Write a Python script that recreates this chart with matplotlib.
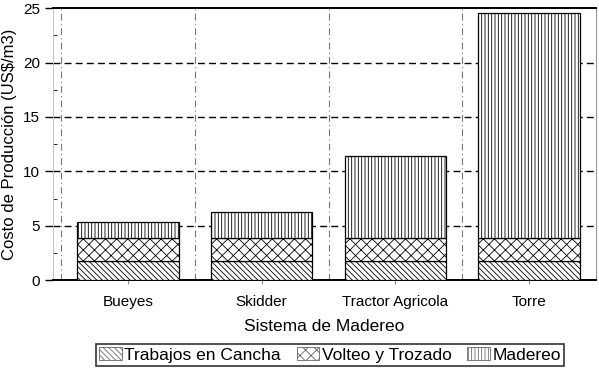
import numpy as np
import matplotlib
matplotlib.use("Agg")
import matplotlib.pyplot as plt
from matplotlib.patches import Patch

plt.rcParams['font.family'] = ['Liberation Sans', 'DejaVu Sans']
plt.rcParams['hatch.linewidth'] = 0.6

sistemas = ["Bueyes", "Skidder", "Tractor Agricola", "Torre"]
trabajos_cancha = [1.75, 1.75, 1.75, 1.75]
volteo_trozado = [2.1, 2.1, 2.1, 2.1]
madereo = [1.5, 2.4, 7.6, 20.75]

series_names = ["Trabajos en Cancha", "Volteo y Trozado", "Madereo"]
hatches = ["\\\\\\\\\\\\", "xxx", "|||||"]

fig = plt.figure(figsize=(5.99, 3.71), dpi=100)
ax = fig.add_axes([0.0885, 0.245, 0.9065, 0.733])

x = np.arange(len(sistemas))
width = 0.76
bottom = np.zeros(len(sistemas))
for vals, h in zip([trabajos_cancha, volteo_trozado, madereo], hatches):
    ax.bar(x, vals, width, bottom=bottom, color="white", edgecolor="black",
           hatch=h, linewidth=0.9, zorder=3)
    bottom += np.array(vals)

# grid lines
for yv in [5, 10, 15, 20]:
    ax.axhline(yv, color="black", linestyle=(0, (5, 3)), linewidth=1.0, zorder=1)
for xv in x - 0.5:
    ax.axvline(xv, color="#777777", linestyle=(0, (6, 3, 1, 3)), linewidth=0.8, zorder=1)

ax.set_xlim(-0.56, 3.5)
ax.set_ylim(0, 25)
ax.set_yticks([0, 5, 10, 15, 20, 25])
ax.set_yticks(np.arange(2.5, 25, 5), minor=True)
ax.tick_params(axis="y", which="major", direction="out", length=6, labelsize=11, width=1)
ax.tick_params(axis="y", which="minor", direction="in", length=3)
ax.set_xticks(x)
ax.set_xticklabels(sistemas, fontsize=11)
ax.tick_params(axis="x", direction="out", length=3, width=0.6, color="#777777", pad=8)

ax.spines["top"].set_linewidth(1.4)
ax.spines["bottom"].set_linewidth(1.4)
ax.spines["left"].set_color("#bbbbbb")
ax.spines["right"].set_color("#999999")
ax.spines["left"].set_linewidth(0.6)
ax.spines["right"].set_linewidth(0.8)

ax.set_ylabel("Costo de Producción (US$/m3)", fontsize=12, labelpad=4)
ax.set_xlabel("Sistema de Madereo", fontsize=12.5, labelpad=7)

handles = [Patch(facecolor="white", edgecolor="#666666", hatch=h, linewidth=0.6)
           for h in hatches]
leg = fig.legend(handles, series_names, loc="center", bbox_to_anchor=(0.551, 0.043),
                 ncol=3, fontsize=12.5, frameon=True, fancybox=False, edgecolor="black",
                 handlelength=1.3, handleheight=0.8, handletextpad=0.15, columnspacing=0.9,
                 borderpad=0.2, borderaxespad=0)
leg.get_frame().set_linewidth(1.2)

fig.savefig("out.png", dpi=100)
